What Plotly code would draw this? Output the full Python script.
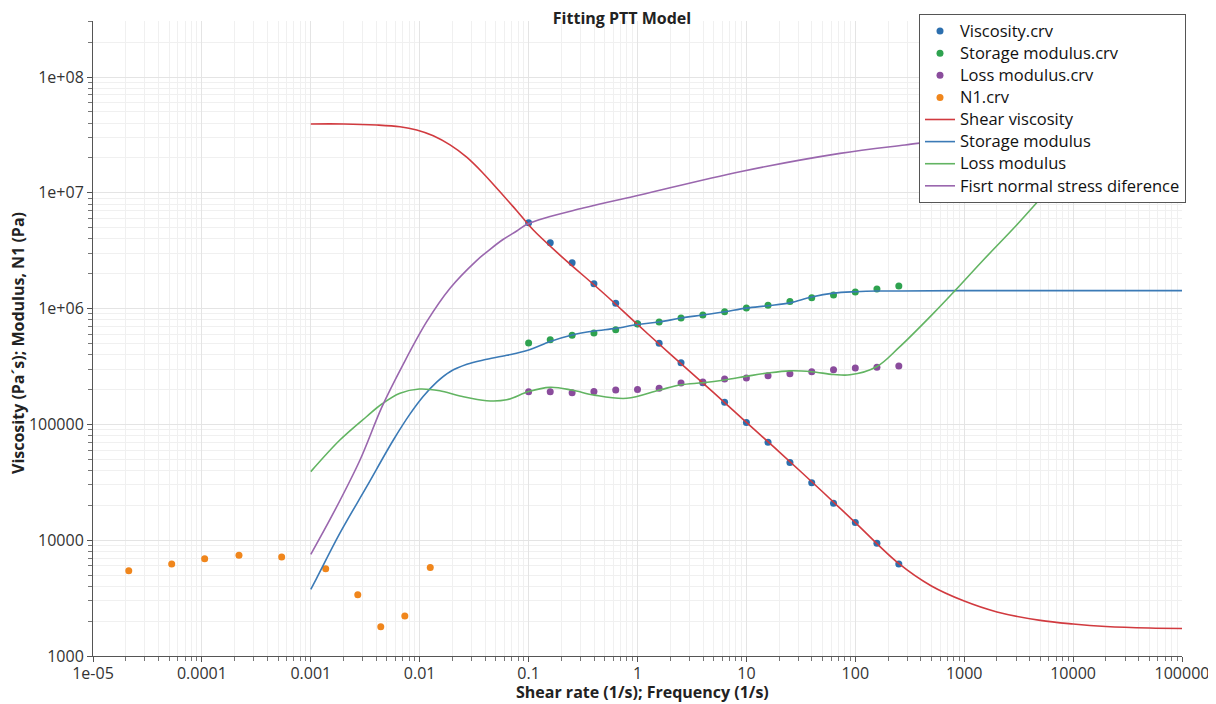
import plotly.graph_objects as go

# ---------------- data ----------------
freq = [0.1, 0.158, 0.251, 0.398, 0.631, 1.0, 1.58, 2.51, 3.98, 6.31,
        10.0, 15.8, 25.1, 39.8, 63.1, 100.0, 158.0, 251.0]
visc_data = [5.52e6, 3.71e6, 2.49e6, 1.64e6, 1.11e6, 7.41e5, 5.02e5, 3.41e5, 2.29e5,
             1.55e5, 1.04e5, 7.0e4, 4.68e4, 3.14e4, 2.09e4, 1.42e4, 9.4e3, 6.23e3]
storage_data = [5.05e5, 5.39e5, 5.88e5, 6.15e5, 6.57e5, 7.36e5, 7.66e5, 8.29e5, 8.81e5,
                9.4e5, 1.01e6, 1.07e6, 1.15e6, 1.24e6, 1.31e6, 1.39e6, 1.48e6, 1.57e6]
loss_data = [1.91e5, 1.91e5, 1.88e5, 1.92e5, 1.98e5, 2.0e5, 2.05e5, 2.28e5, 2.32e5,
             2.47e5, 2.52e5, 2.63e5, 2.74e5, 2.85e5, 2.97e5, 3.07e5, 3.12e5, 3.19e5]

n1_rate = [2.13e-5, 5.28e-5, 1.06e-4, 2.19e-4, 5.4e-4, 1.37e-3, 2.7e-3, 4.39e-3, 7.3e-3, 1.25e-2]
n1_data = [5450, 6220, 6920, 7410, 7160, 5680, 3380, 1790, 2210, 5800]

# fitted model curves
visc_x = [0.001, 0.002, 0.00403, 0.00659, 0.00939, 0.01333, 0.019, 0.027, 0.0384, 0.0546,
          0.0778, 0.1105, 0.194, 0.5, 1, 2, 5, 10, 20, 50, 100, 250, 500, 1000, 2000, 5000,
          10000, 20000, 50000, 100000]
visc_y = [3.93e7, 3.93e7, 3.85e7, 3.72e7, 3.49e7, 3.11e7, 2.59e7, 2.03e7, 1.47e7, 1.02e7,
          7.0e6, 4.77e6, 2.9e6, 1.33e6, 7.3e5, 4.05e5, 1.88e5, 1.04e5, 5.8e4, 2.62e4, 1.42e4,
          6.3e3, 4.02e3, 2.98e3, 2.4e3, 2.03e3, 1.89e3, 1.8e3, 1.745e3, 1.73e3]

gp_x = [0.001, 0.00113, 0.00185, 0.00326, 0.00573, 0.0081, 0.0108, 0.0144, 0.019, 0.0271,
        0.0384, 0.063, 0.1, 0.158, 0.251, 0.398, 0.631, 1.0, 1.58, 2.51, 3.98, 6.31, 10, 15.8,
        25.1, 39.8, 63.1, 100, 158, 251, 1000, 10000, 100000]
gp_y = [3770, 4690, 1.15e4, 2.9e4, 7.33e4, 1.22e5, 1.75e5, 2.33e5, 2.85e5, 3.3e5,
        3.6e5, 3.95e5, 4.39e5, 5.2e5, 5.92e5, 6.4e5, 6.75e5, 7.3e5, 7.66e5, 8.29e5, 8.81e5,
        9.4e5, 1.01e6, 1.06e6, 1.12e6, 1.26e6, 1.36e6, 1.40e6, 1.42e6, 1.42e6, 1.43e6, 1.43e6,
        1.43e6]

gpp_x = [0.001, 0.00185, 0.00326, 0.00449, 0.00659, 0.00993, 0.0153, 0.0234, 0.0412, 0.0629,
         0.1, 0.157, 0.25, 0.402, 0.796, 1.59, 2.51, 3.98, 6.31, 10, 15.8, 25.1, 39.8, 63.1,
         89.4, 157, 251, 521, 823, 1500, 3034, 5710, 10000, 100000]
gpp_y = [3.91e4, 7.33e4, 1.17e5, 1.5e5, 1.86e5, 2.02e5, 1.95e5, 1.76e5, 1.6e5, 1.63e5,
         1.92e5, 2.09e5, 1.98e5, 1.79e5, 1.68e5, 1.98e5, 2.2e5, 2.29e5, 2.42e5, 2.6e5, 2.78e5,
         2.9e5, 2.85e5, 2.7e5, 2.68e5, 3.15e5, 4.6e5, 9.1e5, 1.43e6, 2.63e6, 5.27e6, 1.02e7,
         1.8e7, 1.75e8]

n1_x = [0.001, 0.00161, 0.00283, 0.00449, 0.00707, 0.0116, 0.019, 0.0333, 0.0446, 0.0582,
        0.0778, 0.1, 0.317, 1.05, 8.74, 72.4, 286, 1000, 10000, 100000]
n1_y = [7550, 1.71e4, 4.93e4, 1.41e5, 3.32e5, 7.71e5, 1.5e6, 2.6e6, 3.27e6, 3.95e6, 4.68e6,
        5.43e6, 7.39e6, 9.57e6, 1.52e7, 2.19e7, 2.59e7, 2.97e7, 3.4e7, 3.8e7]

x_ticks = [1e-5, 1e-4, 1e-3, 1e-2, 1e-1, 1, 10, 100, 1000, 10000, 100000]
x_ticktext = ["1e-05", "0.0001", "0.001", "0.01", "0.1", "1", "10", "100", "1000",
              "10000", "100000"]
y_ticks = [1e3, 1e4, 1e5, 1e6, 1e7, 1e8]
y_ticktext = ["1000", "10000", "100000", "1e+06", "1e+07", "1e+08"]

# ---------------- figure ----------------
FONT = "Open Sans"
LEG_TEXT = '<span style="font-size:16.5px">{}</span>'
fig = go.Figure()

marker_series = [
    ("Viscosity.crv", freq, visc_data, "#2c6fae"),
    ("Storage modulus.crv", freq, storage_data, "#2ea24f"),
    ("Loss modulus.crv", freq, loss_data, "#8a4c9c"),
    ("N1.crv", n1_rate, n1_data, "#f0861c"),
]
for name, xs, ys, col in marker_series:
    fig.add_trace(go.Scatter(x=xs, y=ys, mode="markers", name=LEG_TEXT.format(name),
                             marker=dict(color=col, size=7, symbol="circle")))

line_series = [
    ("Shear viscosity", visc_x, visc_y, "#d13a3f"),
    ("Storage modulus", gp_x, gp_y, "#3b7ab6"),
    ("Loss modulus", gpp_x, gpp_y, "#62b462"),
    ("Fisrt normal stress diference", n1_x, n1_y, "#9a67ae"),
]
for name, xs, ys, col in line_series:
    fig.add_trace(go.Scatter(x=xs, y=ys, mode="lines", name=LEG_TEXT.format(name),
                             line=dict(color=col, width=1.6, shape="spline", smoothing=1.0)))

def minor_vals(lo_exp, hi_exp, top=None):
    vals = []
    for e in range(lo_exp, hi_exp + 1):
        for m in range(2, 10):
            v = m * 10 ** e
            if top is None or v <= top:
                vals.append(v)
    return vals

axis_common = dict(
    type="log", showline=True, linecolor="#555555", linewidth=1,
    ticks="outside", ticklen=5, tickcolor="#555555",
    showgrid=True, gridcolor="#e4e4e4", gridwidth=1,
    tickfont=dict(family=FONT, size=16, color="#333333"),
    zeroline=False, mirror=False, automargin=False,
)

fig.update_xaxes(
    **axis_common, range=[-5, 5], tickmode="array", tickvals=x_ticks, ticktext=x_ticktext,
    ticklabelstandoff=-2,
    minor=dict(tickmode="array", tickvals=minor_vals(-5, 4), ticks="outside", ticklen=4,
               tickcolor="#777777", showgrid=True, gridcolor="#f0f0f0"),
)
fig.update_yaxes(
    **axis_common, range=[3, 8.4836], tickmode="array", tickvals=y_ticks, ticktext=y_ticktext,
    minor=dict(tickmode="array", tickvals=minor_vals(3, 8, top=3.05e8), ticks="outside",
               ticklen=4, tickcolor="#777777", showgrid=True, gridcolor="#f0f0f0"),
)

# The page body has an 8px margin; positions below are page pixels.
OFF = 8
W, H = 1208, 696
L, R, T, B = 85, 34, 13, 48
pw, ph = W - L - R, H - T - B


def px_to_paper_x(px):
    return (px - OFF - L) / pw


def py_to_paper_y(py):
    return (H - B - (py - OFF)) / ph


fig.update_layout(
    width=W, height=H,
    margin=dict(l=L, r=R, t=T, b=B, autoexpand=False),
    plot_bgcolor="white", paper_bgcolor="white",
    font=dict(family=FONT, color="#222222"),
    title=dict(text="<b>Fitting PTT Model</b>", x=px_to_paper_x(622), xref="paper",
               xanchor="center", y=1 - (18 - OFF) / H, yref="container", yanchor="middle",
               font=dict(family=FONT, size=16, color="#222222")),
    showlegend=True,
    legend=dict(x=px_to_paper_x(1186), xanchor="right", y=py_to_paper_y(14), yanchor="top",
                bgcolor="white", bordercolor="#555555", borderwidth=1,
                font=dict(family=FONT, size=14.7, color="#111111"), itemwidth=30),
    annotations=[
        dict(text="<b>Shear rate (1/s); Frequency (1/s)</b>", x=px_to_paper_x(642),
             y=py_to_paper_y(692), xref="paper", yref="paper", showarrow=False,
             xanchor="center", yanchor="middle",
             font=dict(family=FONT, size=16, color="#222222")),
        dict(text="<b>Viscosity (Pa´s); Modulus, N1 (Pa)</b>", x=px_to_paper_x(18),
             y=py_to_paper_y(343), xref="paper", yref="paper", showarrow=False, textangle=-90,
             xanchor="center", yanchor="middle",
             font=dict(family=FONT, size=16, color="#222222")),
    ],
)

fig.write_html("out.html")
